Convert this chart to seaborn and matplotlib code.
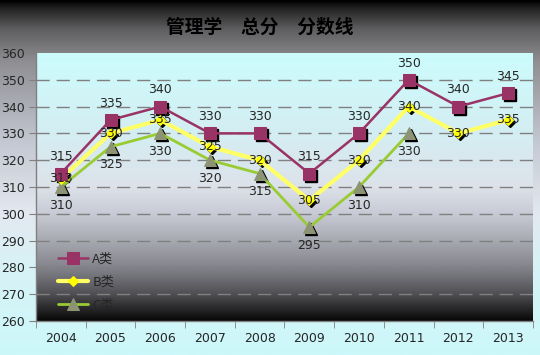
import numpy as np
import pandas as pd
import seaborn as sns
import matplotlib.pyplot as plt
from matplotlib.colors import LinearSegmentedColormap
from matplotlib.transforms import offset_copy

# data
years = [2004, 2005, 2006, 2007, 2008, 2009, 2010, 2011, 2012, 2013]
a_vals = [315, 335, 340, 330, 330, 315, 330, 350, 340, 345]
b_vals = [313, 330, 335, 325, 320, 305, 320, 340, 330, 335]
c_years = [2004, 2005, 2006, 2007, 2008, 2009, 2010, 2011]
c_vals = [310, 325, 330, 320, 315, 295, 310, 330]
names = ['A类', 'B类', 'C类']

dfA = pd.DataFrame({'year': years, 'score': a_vals})
dfB = pd.DataFrame({'year': years, 'score': b_vals})
dfC = pd.DataFrame({'year': c_years, 'score': c_vals})

sns.set_style('white')
plt.rcParams['font.family'] = ['Noto Sans CJK SC', 'DejaVu Sans']

fig = plt.figure(figsize=(5.4, 3.55), dpi=100)

# figure background gradient
bg = fig.add_axes([0, 0, 1, 1], zorder=-10)
bg_cmap = LinearSegmentedColormap.from_list('bg', [
    (0.0, '#000000'), (0.02, '#202020'), (0.08, '#5e5e60'), (0.17, '#8e8e92'),
    (0.4, '#c4c8d2'), (0.6, '#e2e8f0'), (0.75, '#d8f2f6'), (1.0, '#ccf8fa')])
bg.imshow(np.linspace(0, 1, 256).reshape(-1, 1), aspect='auto', cmap=bg_cmap,
          extent=[0, 1, 0, 1], origin='upper')
bg.axis('off')

ax = fig.add_axes([0.0667, 0.0958, 0.9203, 0.755])
ax.set_xlim(2003.5, 2013.5)
ax.set_ylim(260, 360)

# plot-area gradient
pa_cmap = LinearSegmentedColormap.from_list('pa', [
    (0.0, '#ccfcfc'), (0.3, '#d4eef3'), (0.5, '#dde2ea'), (0.6, '#c8cbd5'),
    (0.7, '#a8aab2'), (0.8, '#84848c'), (0.9, '#505054'), (1.0, '#080808')])
ax.imshow(np.linspace(0, 1, 256).reshape(-1, 1), aspect='auto', cmap=pa_cmap,
          extent=[2003.5, 2013.5, 260, 360], origin='upper', zorder=0)

for y in range(270, 360, 10):
    ax.axhline(y, color='#808080', lw=1, dashes=(9.5, 5), zorder=1)

# shadows for the markers
sh = offset_copy(ax.transData, fig=fig, x=2, y=-2, units='dots')
ax.plot(years, a_vals, 's', ms=8, color='black', transform=sh, zorder=3)
ax.plot(years, b_vals, 'D', ms=5, color='black', transform=sh, zorder=3)
ax.plot(c_years, c_vals, '^', ms=9, color='black', transform=sh, zorder=3)

sns.lineplot(data=dfC, x='year', y='score', ax=ax, color='#99cc33', lw=2,
             marker='^', ms=9, markerfacecolor='#8c9474', markeredgecolor='#8c9474',
             label=names[2], zorder=4)
sns.lineplot(data=dfB, x='year', y='score', ax=ax, color='#ffff66', lw=3,
             marker='D', ms=5, markerfacecolor='#ffff00', markeredgecolor='#ffff00',
             label=names[1], zorder=5)
sns.lineplot(data=dfA, x='year', y='score', ax=ax, color='#993366', lw=1.8,
             marker='s', ms=8, markerfacecolor='#993366', markeredgecolor='#993366',
             label=names[0], zorder=6)

# data labels
for x, v in zip(years, a_vals):
    ax.annotate(str(v), (x, v), xytext=(0, 12), textcoords='offset points',
                ha='center', va='center', fontsize=9, family='DejaVu Sans', zorder=8)
for x, v in zip(years, b_vals):
    ax.annotate(str(v), (x, v), xytext=(0, 0), textcoords='offset points',
                ha='center', va='center', fontsize=9, family='DejaVu Sans', zorder=8)
for x, v in zip(c_years, c_vals):
    ax.annotate(str(v), (x, v), xytext=(0, -13), textcoords='offset points',
                ha='center', va='center', fontsize=9, family='DejaVu Sans', zorder=8)

handles, labels = ax.get_legend_handles_labels()
order = [labels.index(n) for n in names]
ax.legend([handles[i] for i in order], [labels[i] for i in order],
          loc='upper left', bbox_to_anchor=(0.02, 0.3), frameon=False,
          handlelength=2.3, labelspacing=0.75, handletextpad=0.3, fontsize=9.5)

ax.set_xticks(years)
ax.set_xticklabels([str(y) for y in years], family='DejaVu Sans', fontsize=9)
ax.set_xticks(np.arange(2003.5, 2014, 1), minor=True)
ax.tick_params(axis='x', which='major', length=0, pad=8)
ax.tick_params(axis='x', which='minor', length=5, color='#808080', direction='out')
ax.set_yticks(range(260, 361, 10))
ax.set_yticklabels([str(y) for y in range(260, 361, 10)], family='DejaVu Sans', fontsize=9)
ax.tick_params(axis='y', length=5, color='#808080', direction='out', pad=3)
ax.tick_params(left=True, bottom=True, which='both')
ax.set_xlabel('')
ax.set_ylabel('')
for s in ['top', 'right']:
    ax.spines[s].set_visible(False)
for s in ['left', 'bottom']:
    ax.spines[s].set_color('#808080')
    ax.spines[s].set_linewidth(1)

fig.text(0.481, 0.924, '管理学　总分　分数线', ha='center', va='center',
         fontsize=13.5, fontweight='bold', color='#000000')

fig.savefig('out.png', dpi=100)
